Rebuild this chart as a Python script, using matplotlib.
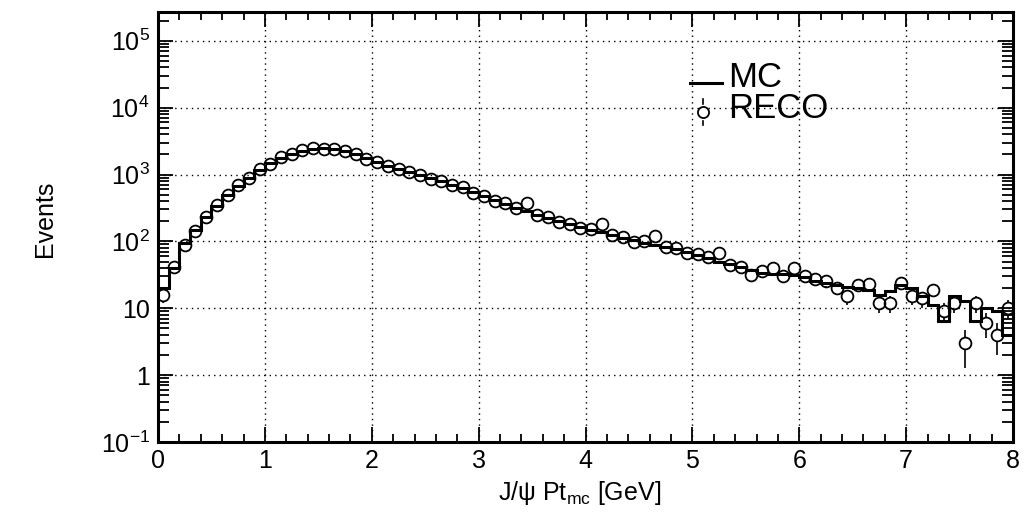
import matplotlib
matplotlib.use('Agg')
import matplotlib.pyplot as plt
import numpy as np
from matplotlib.ticker import FixedLocator, FixedFormatter, MultipleLocator, NullFormatter

plt.rcParams['font.family'] = ['Liberation Sans', 'DejaVu Sans']
plt.rcParams['mathtext.fontset'] = 'custom'
plt.rcParams['mathtext.rm'] = 'Liberation Sans'
plt.rcParams['mathtext.it'] = 'Liberation Sans:italic'

# binning: 80 bins of 0.1 GeV from 0 to 8
pt_low = 0.0
pt_high = 8.0
n_bins = 80

# MC histogram (step line)
mc_counts = [20, 40, 95, 150, 235, 340, 500, 680, 900, 1180,
             1480, 1780, 2050, 2280, 2420, 2460, 2400, 2250, 2000, 1740,
             1520, 1360, 1220, 1100, 990, 890, 800, 700, 620, 540,
             470, 415, 365, 320, 285, 252, 225, 202, 182, 165,
             150, 137, 125, 113, 104, 96, 89, 83, 77, 70,
             63, 56, 50, 46, 41, 37, 34, 33, 32, 31,
             29, 26, 24, 22, 21, 20, 19, 16, 18, 22,
             20, 15, 11, 6.5, 15, 13, 6.5, 10, 9, 4]

# RECO points (open circles with sqrt(N) errors)
reco_counts = [16, 42, 87, 145, 230, 345, 490, 690, 890, 1200,
               1460, 1800, 2020, 2300, 2450, 2440, 2420, 2230, 2020, 1720,
               1540, 1340, 1230, 1080, 1000, 870, 810, 690, 640, 530,
               480, 405, 370, 315, 370, 250, 230, 196, 185, 160,
               152, 185, 124, 116, 98, 100, 120, 82, 79, 68,
               64, 58, 68, 45, 42, 31, 36, 40, 30, 40,
               30, 27, 26, 20, 15, 22, 23, 12, 12, 24,
               15, 14, 19, 9, 12, 3, 12, 6, 4, 10]

y_tick_vals = [0.1, 1, 10, 100, 1000, 1e4, 1e5]
y_tick_labels = ['$10^{-1}$', '1', '10', '$10^{2}$', '$10^{3}$', '$10^{4}$', '$10^{5}$']
x_tick_vals = [0, 1, 2, 3, 4, 5, 6, 7, 8]

edges = np.linspace(pt_low, pt_high, n_bins + 1)
centers = 0.5 * (edges[:-1] + edges[1:])
reco = np.array(reco_counts, dtype=float)
reco_err = np.sqrt(reco)

fig = plt.figure(figsize=(10.33, 5.16), dpi=100)
ax = fig.add_axes([0.153, 0.1434, 0.8277, 0.8333])

ymin, ymax = 0.1, 10 ** 5.43
ax.set_xlim(pt_low, pt_high)
ax.set_yscale('log')
ax.set_ylim(ymin, ymax)

# MC step histogram
ax.stairs(mc_counts, edges, baseline=None, color='black', lw=2.2, zorder=3)

# RECO error bars, gapped around the marker like ROOT does
ms = 8.5
ax_h_px = 0.8333 * 516
px_per_dec = ax_h_px / (np.log10(ymax) - np.log10(ymin))
gap = 10 ** ((ms / 2 * 100 / 72) / px_per_dec)
lo = reco - reco_err
lo = np.where(lo <= 0, ymin, lo)
hi = reco + reco_err
show_lo = lo < reco / gap
show_hi = hi > reco * gap
ax.vlines(centers[show_lo], lo[show_lo], (reco / gap)[show_lo], color='black', lw=1.2, zorder=4)
ax.vlines(centers[show_hi], (reco * gap)[show_hi], hi[show_hi], color='black', lw=1.2, zorder=4)
ax.plot(centers, reco, 'o', ms=ms, mfc='none', mec='black', mew=1.3, zorder=5)

# axes styling
ax.yaxis.set_major_locator(FixedLocator(y_tick_vals))
ax.yaxis.set_major_formatter(FixedFormatter(y_tick_labels))
ax.yaxis.set_minor_locator(FixedLocator([m * 10.0 ** e for e in range(-1, 6) for m in range(2, 10)]))
ax.yaxis.set_minor_formatter(NullFormatter())
ax.xaxis.set_major_locator(FixedLocator(x_tick_vals))
ax.xaxis.set_minor_locator(MultipleLocator(0.2))

ax.tick_params(which='both', direction='in', top=True, right=True, width=1.3)
ax.tick_params(which='major', length=11)
ax.tick_params(which='minor', length=5.5)
ax.tick_params(axis='x', which='major', labelsize=18, pad=5)
ax.tick_params(axis='y', which='major', labelsize=18, pad=6)
ax.tick_params(axis='y', which='minor', length=8)

for s in ax.spines.values():
    s.set_linewidth(2.2)

ax.grid(True, which='major', color='black', linestyle=(0, (1, 3)), linewidth=1.0)

# legend drawn by hand
ax.plot([0.622, 0.660], [0.835, 0.835], transform=ax.transAxes, color='black', lw=2.2)
ax.text(0.667, 0.826, 'MC', transform=ax.transAxes, fontsize=25, va='baseline')
ax.plot([0.637], [0.767], 'o', transform=ax.transAxes, ms=8, mfc='white', mec='black', mew=1.3)
ax.plot([0.637, 0.637], [0.787, 0.797], transform=ax.transAxes, color='black', lw=1.2)
ax.plot([0.637, 0.637], [0.737, 0.747], transform=ax.transAxes, color='black', lw=1.2)
ax.text(0.667, 0.753, 'RECO', transform=ax.transAxes, fontsize=25, va='baseline')

fig.text(45 / 1033, 1 - 219 / 516, 'Events', rotation=90, ha='center', va='center', fontsize=18)
fig.text(580 / 1033, 1 - 500 / 516, 'J/ψ Pt$_{\\mathrm{mc}}$ [GeV]', ha='center', va='baseline', fontsize=18)

fig.savefig('out.png', dpi=100)
